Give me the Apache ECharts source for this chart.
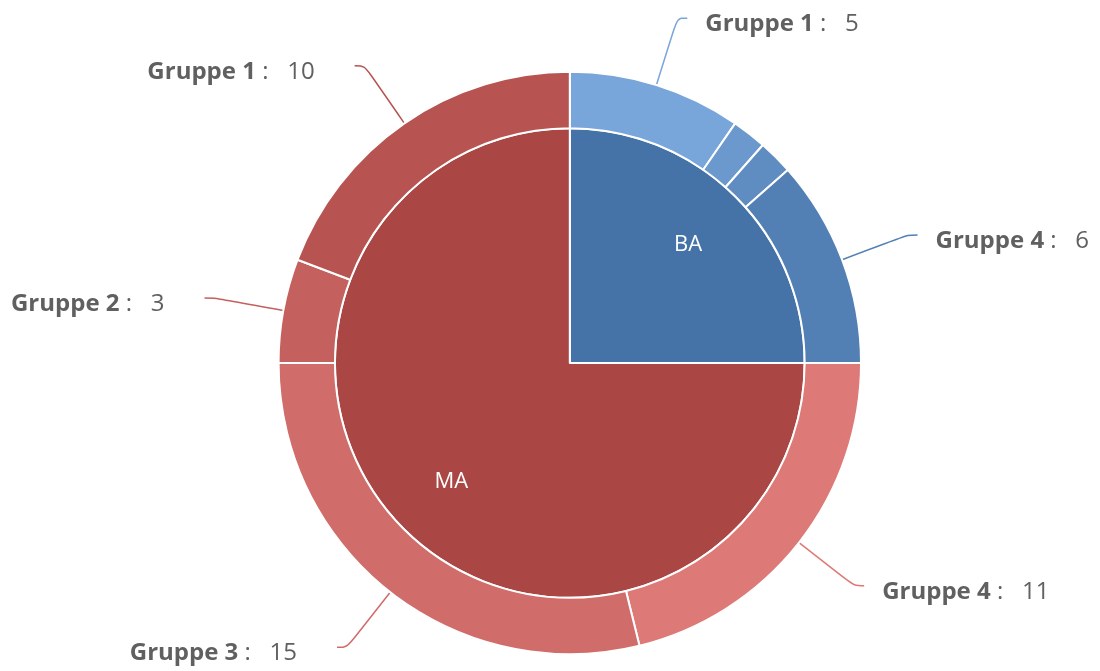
<!DOCTYPE html>
<html>
<head>
<meta charset="utf-8">
<script src="https://cdn.jsdelivr.net/npm/echarts@6/dist/echarts.min.js"></script>
<style>
html,body{margin:0;padding:0;background:#fff;}
#chart{width:1100px;height:671px;}
</style>
</head>
<body>
<div id="chart"></div>
<script>
// Inner ring (programmes)
const innerNames = ['BA', 'MA'];
const innerValues = [13, 39];
const innerColors = ['#4572a7', '#aa4643'];

// Outer ring: BA groups, then MA groups (clockwise order)
const baNames = ['Gruppe 1', 'Gruppe 2', 'Gruppe 3', 'Gruppe 4'];
const baValues = [5, 1, 1, 6];
const baColors = ['#78a5da', '#6b98cd', '#5f8cc1', '#527fb4'];

const maNames = ['Gruppe 4', 'Gruppe 3', 'Gruppe 2', 'Gruppe 1'];
const maValues = [11, 15, 3, 10];
const maColors = ['#dd7976', '#d06c69', '#c4605d', '#b75350'];

const innerData = innerNames.map((n, i) => ({ name: n, value: innerValues[i], itemStyle: { color: innerColors[i] } }));
const outerData = baNames.map((n, i) => ({ name: n, value: baValues[i], itemStyle: { color: baColors[i] } }))
  .concat(maNames.map((n, i) => ({ name: n, value: maValues[i], itemStyle: { color: maColors[i] } })));

const center = ['51.8%', '54.1%'];
const FONT = '"Open Sans", "Noto Sans", sans-serif';

const chart = echarts.init(document.getElementById('chart'), null, { renderer: 'canvas' });
chart.setOption({
  animation: false,
  backgroundColor: '#ffffff',
  series: [
    {
      type: 'pie',
      radius: ['0%', '70%'],
      center: center,
      startAngle: 90,
      clockwise: true,
      silent: true,
      itemStyle: { borderColor: '#ffffff', borderWidth: 2 },
      label: { show: false },
      labelLine: { show: false },
      data: innerData
    },
    {
      // label carrier for inner ring (transparent)
      type: 'pie',
      radius: ['28%', '70%'],
      center: center,
      startAngle: 90,
      silent: true,
      itemStyle: { color: 'rgba(0,0,0,0)', borderWidth: 0 },
      label: { show: true, position: 'inside', color: '#ffffff', fontSize: 22, fontFamily: FONT, formatter: '{b}' },
      labelLine: { show: false },
      data: innerNames.map((n, i) => ({ name: n, value: innerValues[i] }))
    },
    {
      type: 'pie',
      radius: ['70%', '86.8%'],
      center: center,
      startAngle: 90,
      clockwise: true,
      silent: true,
      minShowLabelAngle: 10,
      avoidLabelOverlap: true,
      itemStyle: { borderColor: '#ffffff', borderWidth: 2 },
      label: {
        show: true,
        position: 'outside',
        overflow: 'none',
        distanceToLabelLine: 18,
        padding: [12, 22, 0, 0],
        formatter: '{n|{b}}{v| :   {c}}',
        rich: {
          n: { fontFamily: FONT, fontWeight: 'bold', fontSize: 24, color: '#606060' },
          v: { fontFamily: FONT, fontSize: 24, color: '#606060' }
        }
      },
      labelLine: { show: true, length: 70, length2: 10, smooth: 0.35, lineStyle: { width: 1.5 } },
      data: outerData
    }
  ]
});
</script>
</body>
</html>
